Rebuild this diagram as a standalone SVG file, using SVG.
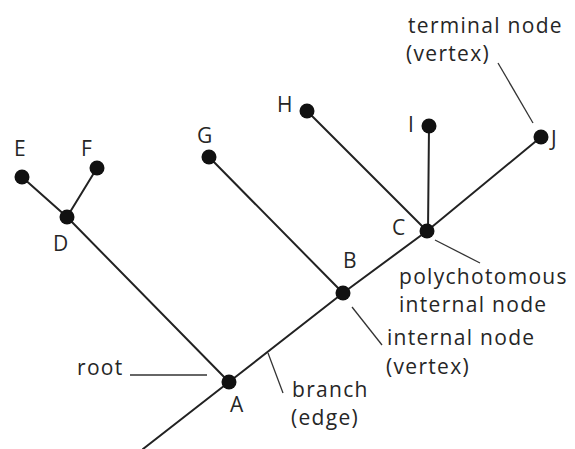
<svg xmlns="http://www.w3.org/2000/svg" width="575" height="449" viewBox="0 0 575 449">
<style>
.edge{stroke:#222;stroke-width:2;fill:none;stroke-linecap:round}
.lead{stroke:#333;stroke-width:1.3;fill:none}
.nd{fill:#111}
text{font-family:"Open Sans","Noto Sans",sans-serif;font-size:21px;fill:#262626}
.lbl{letter-spacing:1.3px}
</style>
<rect width="575" height="449" fill="#fff"/>
<g id="connectors">
<polyline class="edge" points="143,449 229,382 343,293 427,231 541,137"/>
<line class="edge" x1="67" y1="217" x2="229" y2="382"/>
<line class="edge" x1="22" y1="177" x2="67" y2="217"/>
<line class="edge" x1="97" y1="168" x2="67" y2="217"/>
<line class="edge" x1="209" y1="157" x2="343" y2="293"/>
<line class="edge" x1="307" y1="111" x2="427" y2="231"/>
<line class="edge" x1="429" y1="126" x2="428" y2="231"/>
<line class="lead" x1="498" y1="63" x2="533" y2="123"/>
<line class="lead" x1="130" y1="375" x2="207" y2="375"/>
<line class="lead" x1="268" y1="353" x2="283" y2="393"/>
<line class="lead" x1="352" y1="307" x2="382" y2="345"/>
<line class="lead" x1="435" y1="240" x2="480" y2="263"/>
</g>
<g id="node-A"><circle class="nd" cx="229" cy="382" r="7.5"/><text x="230" y="412">A</text></g>
<g id="node-B"><circle class="nd" cx="343" cy="293" r="7.5"/><text x="343" y="268">B</text></g>
<g id="node-C"><circle class="nd" cx="427" cy="231" r="7.5"/><text x="392" y="235">C</text></g>
<g id="node-D"><circle class="nd" cx="67" cy="217" r="7.5"/><text x="53" y="251">D</text></g>
<g id="node-E"><circle class="nd" cx="22" cy="177" r="7.5"/><text x="14" y="156">E</text></g>
<g id="node-F"><circle class="nd" cx="97" cy="168" r="7.5"/><text x="81" y="156">F</text></g>
<g id="node-G"><circle class="nd" cx="209" cy="157" r="7.5"/><text x="197" y="143">G</text></g>
<g id="node-H"><circle class="nd" cx="307" cy="111" r="7.5"/><text x="277" y="112">H</text></g>
<g id="node-I"><circle class="nd" cx="429" cy="126" r="7.5"/><text x="408" y="132">I</text></g>
<g id="node-J"><circle class="nd" cx="541" cy="137" r="7.5"/><text x="551" y="146">J</text></g>
<g id="label-terminal"><text class="lbl" x="408" y="33">terminal node</text><text class="lbl" x="406" y="61">(vertex)</text></g>
<g id="label-root"><text class="lbl" x="77" y="375">root</text></g>
<g id="label-branch"><text class="lbl" x="292" y="397">branch</text><text class="lbl" x="291" y="425">(edge)</text></g>
<g id="label-internal"><text class="lbl" x="387" y="345">internal node</text><text class="lbl" x="386" y="374">(vertex)</text></g>
<g id="label-poly"><text class="lbl" x="399" y="284">polychotomous</text><text class="lbl" x="399" y="312">internal node</text></g>
</svg>
